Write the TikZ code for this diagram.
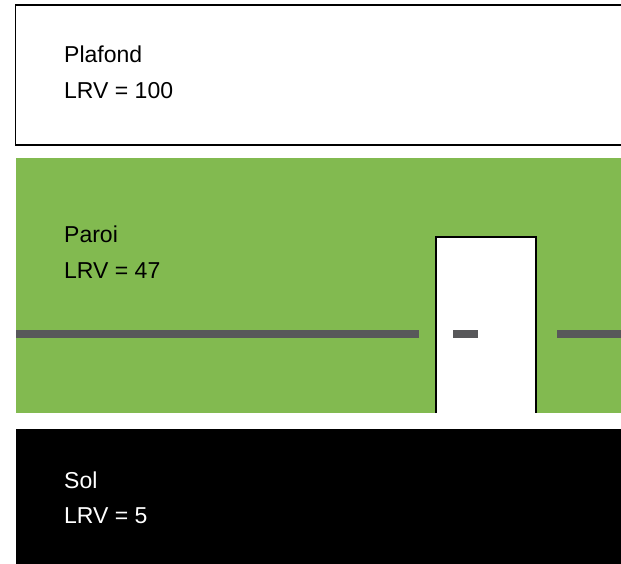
\documentclass[tikz,border=0pt]{standalone}
\usepackage{fontspec}
\setmainfont{Liberation Sans}
\definecolor{wallgreen}{HTML}{82BA50}
\definecolor{railgray}{HTML}{58585A}
\tikzset{
  lbl/.style={anchor=base west, inner sep=0pt, font=\fontsize{23}{27}\selectfont},
  rail/.style={fill=railgray, draw=none}
}
\begin{document}
\begin{tikzpicture}[x=1pt,y=-1pt]
\useasboundingbox (0,0) rectangle (621,564);
\fill[white] (0,0) rectangle (621,564);
% ceiling
\draw[line width=1.3pt, fill=white] (630,5) -- (15.5,5) -- (15.5,145) -- (630,145);
\node[lbl] (plafond) at (64,63) {Plafond};
\node[lbl] (plafondlrv) at (64,99) {LRV = 100};
% wall
\fill[wallgreen] (16,158) rectangle (621,413);
\fill[rail] (16,329.5) rectangle (419,337.5);
\fill[rail] (557,329.5) rectangle (621,337.5);
\draw[line width=2pt, fill=white] (436,413) -- (436,236.5) -- (535.5,236.5) -- (535.5,413);
\fill[rail] (453,329.5) rectangle (478,337.5);
\node[lbl] (paroi) at (64,243) {Paroi};
\node[lbl] (paroilrv) at (64,278) {LRV = 47};
% floor
\fill[black] (16,429) rectangle (621,564);
\node[lbl, text=white] (sol) at (64,488) {Sol};
\node[lbl, text=white] (sollrv) at (64,523) {LRV = 5};
\end{tikzpicture}
\end{document}
